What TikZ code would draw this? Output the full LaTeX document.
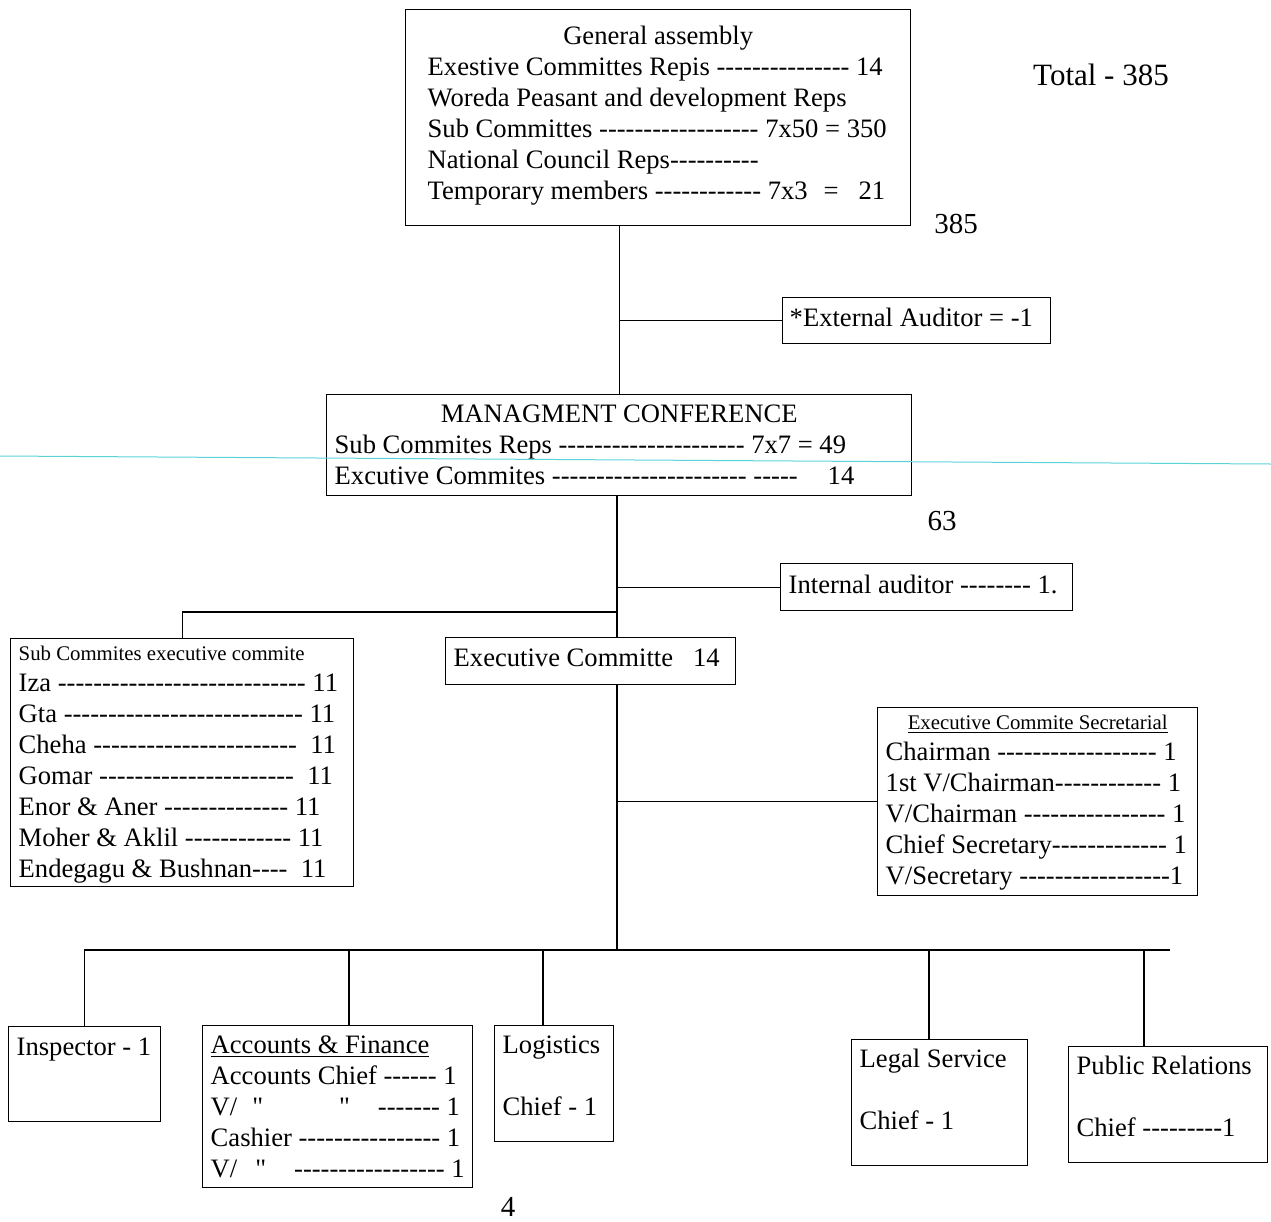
\documentclass[tikz,border=0pt]{standalone}
\usepackage{fontspec}
\setmainfont{Liberation Serif}[Ligatures=TeXOff]
\usepackage{tikz}
\usetikzlibrary{positioning}
\definecolor{scanline}{RGB}{90,210,215}

\begin{document}
\begin{tikzpicture}[
    x=0.5pt, y=-0.5pt,
    line width=0.7pt,
    box/.style = {draw, anchor=north west, align=flush left, inner ysep=0pt, inner xsep=4pt, font={\fontsize{13.3}{15.5}\selectfont}},
    num/.style = {inner sep=0pt, font={\fontsize{14.5}{17}\selectfont}}
]
    \useasboundingbox (0,0) rectangle (1271,1222);

    \node[box, inner xsep=11pt, text width=230.5pt, text height=17.5pt, text depth=90.5pt] (GA) at (405,9)
        {\makebox[\linewidth]{General assembly}\\
         \mbox{Exestive Committes Repis --------------- 14}\\
         \mbox{Woreda Peasant and development Reps}\\
         \mbox{Sub Committes ------------------ 7x50 = 350}\\
         \mbox{National Council Reps----------}\\
         \mbox{Temporary members ------------ 7x3\hspace{8pt}=\hspace{10pt}21}};
    \node[box, inner xsep=3.5pt, text width=127pt, text height=14.5pt, text depth=8.5pt] (ExtAud) at (782,297)
        {*External Auditor = -1};
    \node[box, text width=284.5pt, text height=14pt, text depth=36.5pt] (MC) at (326,394)
        {\makebox[\linewidth]{MANAGMENT CONFERENCE}\\
         \mbox{Sub Commites Reps --------------------- 7x7 = 49}\\
         \mbox{Excutive Commites ---------------------- -----\hspace{15pt}14}};
    \node[box, text width=138pt, text height=15pt, text depth=8.5pt] (IntAud) at (780,563)
        {Internal auditor -------- 1.};
    \node[box, text width=163.5pt, text height=11pt, text depth=113pt] (SubC) at (10,638)
        {{\fontsize{10.4}{12}\selectfont Sub Commites executive commite}\\
         \mbox{Iza ---------------------------- 11}\\
         \mbox{Gta --------------------------- 11}\\
         \mbox{Cheha ----------------------- \ 11}\\
         \mbox{Gomar ---------------------- \ 11}\\
         \mbox{Enor \& Aner -------------- 11}\\
         \mbox{Moher \& Aklil ------------ 11}\\
         \mbox{Endegagu \& Bushnan---- \ 11}};
    \node[box, text width=137pt, text height=14.5pt, text depth=9pt] (EC) at (445,637)
        {\mbox{Executive Committe\hspace{10pt}14}};
    \node[box, text width=152pt, text height=11pt, text depth=83pt] (Sec) at (877,707)
        {\makebox[\linewidth]{\fontsize{10.4}{12}\selectfont\underline{Executive Commite Secretarial}}\\
         \mbox{Chairman ------------------ 1}\\
         \mbox{1st V/Chairman------------ 1}\\
         \mbox{V/Chairman ---------------- 1}\\
         \mbox{Chief Secretary------------- 1}\\
         \mbox{V/Secretary -----------------1}};

    \node[box, text width=68pt, text height=14.5pt, text depth=33pt] (Insp) at (8,1026)
        {Inspector - 1};
    \node[box, text width=127pt, text height=14pt, text depth=67pt] (Acc) at (202,1025)
        {\underline{Accounts \& Finance}\\
         \mbox{Accounts Chief ------ 1}\\
         \mbox{V/\hspace{7.5pt}"\hspace{38pt}"\hspace{14pt}------- 1}\\
         \mbox{Cashier ---------------- 1}\\
         \mbox{V/\hspace{9pt}"\hspace{14pt}----------------- 1}};
    \node[box, text width=51.5pt, text height=14pt, text depth=44pt] (Log) at (494,1025)
        {Logistics\\[15.5pt]
         \mbox{Chief - 1}};
    \node[box, text width=80pt, text height=14pt, text depth=49pt] (Legal) at (851,1039)
        {Legal Service\\[15.5pt]
         Chief - 1};
    \node[box, text width=91.5pt, text height=14pt, text depth=44pt] (PR) at (1068,1046)
        {\mbox{Public Relations}\\[15.5pt]
         Chief ---------1};

    \node[font={\fontsize{15.5}{18}\selectfont}, inner sep=0pt] (total) at (1101,75) {Total - 385};
    \node[num] (gaSum) at (956,224) {385};
    \node[num] (mcSum) at (942,521) {63};
    \node[num] (page) at (508,1207) {4};

    \coordinate (split) at (617,612);
    \coordinate (hub) at (617,950);
    \coordinate (busEnd) at (1170,950);
    \coordinate (dAcc) at (349,950);
    \coordinate (dLog) at (543,950);
    \coordinate (dLegal) at (929,950);
    \coordinate (dPR) at (1144,950);

    \draw (GA.south -| MC.north) -- (MC.north);
    \draw (ExtAud.west) -- (ExtAud.west -| MC.north);
    \draw (MC.south -| split) -- (split |- EC.north);
    \draw (IntAud.west) -- (IntAud.west -| split);
    \draw (split) -| (SubC.north);
    \draw (split |- EC.south) -- (hub);
    \draw (Sec.west) -- (Sec.west -| hub);
    \draw (Insp.north) |- (busEnd);
    \draw (dAcc) -- (dAcc |- Acc.north);
    \draw (dLog) -- (dLog |- Log.north);
    \draw (dLegal) -- (dLegal |- Legal.north);
    \draw (dPR) -- (dPR |- PR.north);

    \draw[scanline, line width=0.5pt] (0,456) -- (1271,464);
\end{tikzpicture}
\end{document}
